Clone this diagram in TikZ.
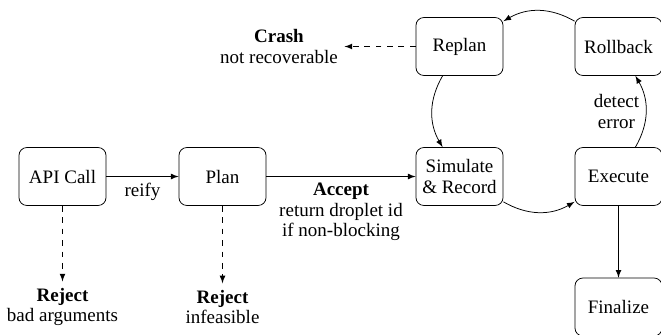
\documentclass[tikz,border=0pt]{standalone}
\usepackage{fontspec}
\setmainfont{Liberation Serif}
\usetikzlibrary{arrows.meta}
\begin{document}
\begin{tikzpicture}[x=0.526pt,y=-0.526pt,
  >=latex,
  every node/.style={font=\fontsize{10}{10.8}\selectfont},
  state/.style={draw, rounded corners=4.2pt, minimum width=45.8pt, minimum height=30.5pt, align=center, inner sep=2pt},
  lbl/.style={align=center},
  flow/.style={->},
  fail/.style={->, dashed}]
\useasboundingbox (0,0) rectangle (661,334);
\node[state] (api) at (62.5,176.5) {API Call};
\node[state] (plan) at (222.5,176.5) {Plan};
\node[state] (sim) at (459.5,176.5) {Simulate\\\& Record};
\node[state] (replan) at (459.5,46.5) {Replan};
\node[state] (roll) at (618.5,46.5) {Rollback};
\node[state] (exec) at (618.5,176.5) {Execute};
\node[state] (fin) at (618.5,307) {Finalize};
\node[lbl] (crash) at (279,46.5) {\textbf{Crash}\\not recoverable};
\node[lbl] (rej1) at (62.5,307) {\textbf{Reject}\\bad arguments};
\node[lbl] (rej2) at (222.5,307) {\textbf{Reject}\\infeasible};
\draw[flow] (api) -- node[below] {reify} (plan);
\draw[flow] (plan) -- node[below, lbl] {\textbf{Accept}\\return droplet id\\if non-blocking} (sim);
\draw[flow] (sim) to[bend right=30] (exec);
\draw[flow] (exec) to[bend right=30] node[left, lbl] {detect\\error} (roll);
\draw[flow] (roll) to[bend right=30] (replan);
\draw[flow] (replan) to[bend right=30] (sim);
\draw[flow] (exec) -- (fin);
\draw[fail] (replan) -- (crash);
\draw[fail] (api) -- (rej1);
\draw[fail] (plan) -- (rej2);
\end{tikzpicture}
\end{document}
